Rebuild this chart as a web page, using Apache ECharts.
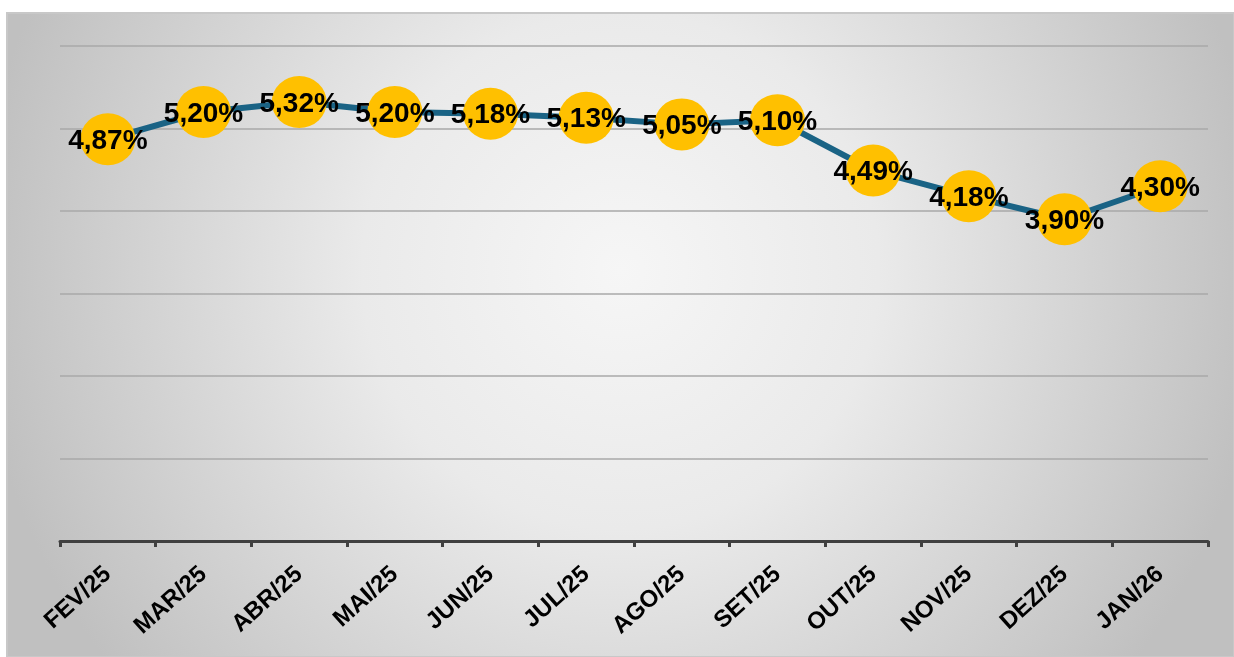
<!DOCTYPE html>
<html><head><meta charset="utf-8">
<script src="https://cdn.jsdelivr.net/npm/echarts@6/dist/echarts.min.js"></script>
<style>html,body{margin:0;padding:0;background:#fff}#c{width:1234px;height:657px}</style>
</head><body><div id="c"></div>
<script>
var categories = ['FEV/25','MAR/25','ABR/25','MAI/25','JUN/25','JUL/25','AGO/25','SET/25','OUT/25','NOV/25','DEZ/25','JAN/26'];
var values = [4.87, 5.20, 5.32, 5.20, 5.18, 5.13, 5.05, 5.10, 4.49, 4.18, 3.90, 4.30];
var yMin = 0, yMax = 6, yInterval = 1;

var chart = echarts.init(document.getElementById('c'));
chart.setOption({
  animation: false,
  graphic: [{
    type: 'rect', z: -10, silent: true,
    shape: {x: 7, y: 13, width: 1227, height: 644},
    style: {
      fill: {type: 'radial', x: 0.5, y: 0.4, r: 1.0,
        colorStops: [{offset: 0, color: '#f6f6f6'}, {offset: 0.4, color: '#eaeaea'}, {offset: 1, color: '#c0c0c0'}]},
      stroke: '#c8c8c8', lineWidth: 2
    }
  }],
  grid: {left: 60, right: 26, top: 46, bottom: 116, containLabel: false},
  xAxis: {
    type: 'category', data: categories, boundaryGap: true,
    axisLine: {lineStyle: {color: '#404040', width: 3}},
    axisTick: {show: true, alignWithLabel: false, length: 6, lineStyle: {color: '#404040', width: 3}},
    axisLabel: {rotate: 42, interval: 0, color: '#000', fontFamily: 'Liberation Sans, Arial, sans-serif', fontWeight: 'bold', fontSize: 24, margin: 30},
    splitLine: {show: false}
  },
  yAxis: {
    type: 'value', min: yMin, max: yMax, interval: yInterval,
    axisLabel: {show: false}, axisLine: {show: false}, axisTick: {show: false},
    splitLine: {lineStyle: {color: '#a8a8a8', width: 1.5}}
  },
  series: [{
    type: 'line', data: values,
    symbol: 'circle', symbolSize: [55, 52],
    itemStyle: {color: '#FFC000', borderWidth: 0},
    lineStyle: {color: '#1A6385', width: 6},
    label: {
      show: true, position: 'inside', color: '#000',
      fontFamily: 'Liberation Sans, Arial, sans-serif', fontWeight: 'bold', fontSize: 28,
      offset: [0, 2],
      formatter: function (p) { return p.value.toFixed(2).replace('.', ',') + '%'; }
    },
    z: 5
  }]
});
</script></body></html>
